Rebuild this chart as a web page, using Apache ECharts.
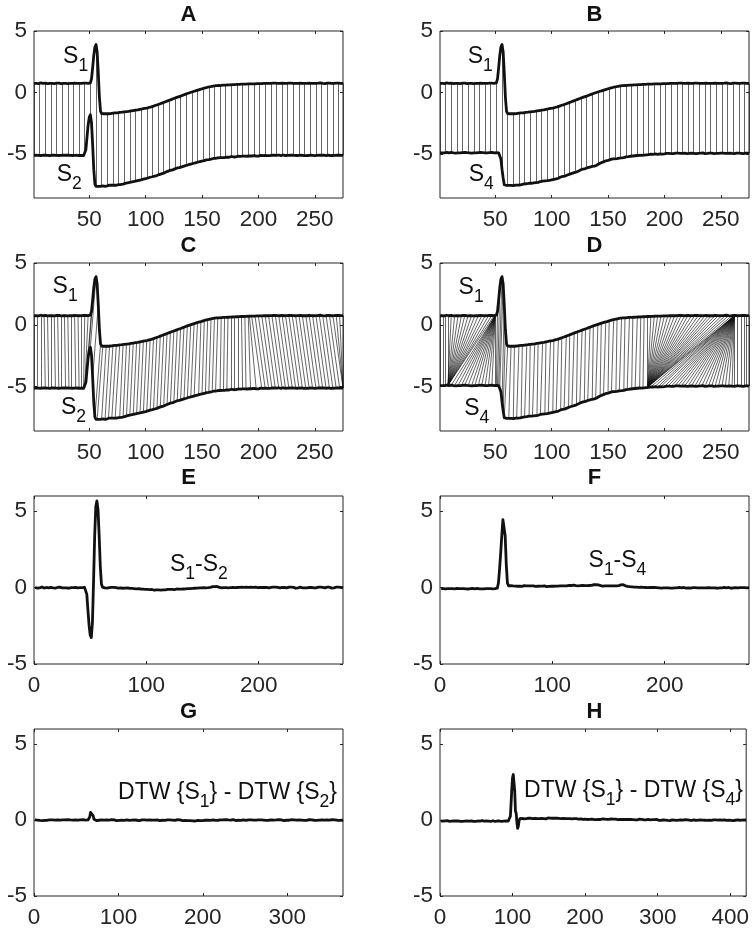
<!DOCTYPE html>
<html><head><meta charset="utf-8">
<script src="https://cdn.jsdelivr.net/npm/echarts@6/dist/echarts.min.js"></script>
<style>html,body{margin:0;padding:0;background:#fff}#c{width:752px;height:931px}</style>
</head><body><div id="c"></div>
<script>
// ---------------- DATA ----------------
// S1, S2, S4: signals (sample index 1..275), S2/S4 drawn shifted down in panels A-D
const S1 = [
.74,.76,.73,.75,.72,.74,.77,.75,.73,.74,
.76,.74,.72,.75,.73,.76,.74,.75,.72,.74,
.75,.73,.76,.74,.72,.75,.74,.77,.73,.74,
.72,.75,.74,.76,.73,.74,.75,.72,.74,.76,
.73,.75,.74,.72,.75,.74,.76,.73,.74,.75,
.78,1.1,2.0,3.0,3.7,3.9,3.3,1.6,-.4,-1.55,
-1.72,-1.75,-1.74,-1.76,-1.74,-1.73,-1.74,-1.71,-1.72,-1.70,
-1.69,-1.70,-1.67,-1.66,-1.67,-1.64,-1.63,-1.62,-1.61,-1.60,
-1.58,-1.59,-1.56,-1.55,-1.54,-1.52,-1.51,-1.49,-1.48,-1.46,
-1.45,-1.43,-1.42,-1.40,-1.38,-1.37,-1.35,-1.33,-1.31,-1.30,
-1.28,-1.25,-1.23,-1.20,-1.18,-1.14,-1.12,-1.08,-1.05,-1.02,
-.99,-.95,-.92,-.88,-.85,-.82,-.78,-.75,-.71,-.68,
-.64,-.61,-.57,-.54,-.50,-.47,-.43,-.40,-.36,-.33,
-.30,-.26,-.23,-.19,-.16,-.13,-.09,-.06,-.03,0,
.03,.06,.09,.12,.15,.18,.21,.24,.26,.29,
.32,.34,.37,.40,.42,.44,.46,.48,.50,.52,
.53,.54,.55,.56,.56,.57,.58,.58,.59,.59,
.60,.61,.61,.62,.62,.63,.63,.64,.64,.64,
.65,.65,.66,.66,.67,.67,.67,.68,.68,.68,
.69,.69,.70,.70,.70,.71,.70,.71,.72,.71,
.72,.73,.72,.73,.74,.72,.73,.74,.73,.75,
.74,.73,.75,.74,.76,.73,.74,.75,.73,.74,
.76,.74,.73,.75,.74,.72,.75,.74,.76,.73,
.74,.75,.73,.76,.74,.72,.75,.74,.73,.75,
.74,.76,.73,.74,.75,.72,.74,.76,.73,.75,
.74,.73,.75,.74,.77,.73,.74,.75,.72,.74,
.75,.73,.76,.74,.73,.75,.74,.72,.75,.74,
.76,.73,.74,.75,.74
];
const S2 = [
.73,.75,.76,.72,.74,.77,.73,.74,.76,.72,
.75,.73,.74,.77,.72,.74,.76,.73,.75,.72,
.74,.76,.73,.75,.74,.71,.76,.73,.75,.74,
.76,.72,.74,.75,.73,.77,.74,.72,.75,.74,
.73,.76,.74,.75,.73,
.78,1.2,2.2,3.2,3.85,4.05,3.4,1.6,-.4,-1.6,-1.78,-1.8,-1.79,-1.8,-1.79,
-1.75,-1.75,-1.72,-1.78,-1.71,-1.74,-1.74,-1.68,-1.74,-1.69,
-1.71,-1.68,-1.67,-1.69,-1.64,-1.64,-1.61,-1.63,-1.57,-1.60,
-1.55,-1.54,-1.54,-1.49,-1.50,-1.45,-1.46,-1.41,-1.42,-1.37,
-1.37,-1.33,-1.35,-1.29,-1.29,-1.25,-1.25,-1.20,-1.20,-1.16,
-1.16,-1.10,-1.10,-1.04,-1.06,-1.00,-.95,-.95,-.90,-.90,
-.84,-.82,-.76,-.76,-.71,-.71,-.63,-.62,-.59,-.54,
-.53,-.47,-.45,-.44,-.37,-.36,-.34,-.28,-.26,-.25,
-.20,-.19,-.14,-.13,-.08,-.08,-.02,-.02,.03,.03,
.08,.08,.13,.13,.18,.18,.23,.23,.27,.27,
.32,.31,.38,.38,.42,.40,.44,.43,.44,.49,
.46,.50,.47,.53,.55,.55,.59,.56,.59,.56,
.60,.59,.62,.59,.62,.65,.62,.61,.64,.62,
.64,.67,.64,.66,.64,.68,.65,.68,.65,.67,
.67,.69,.67,.69,.68,.72,.67,.69,.72,.68,
.71,.74,.70,.72,.73,.74,.71,.72,.75,.72,
.73,.75,.72,.76,.73,.74,.72,.77,.74,.72,
.74,.77,.72,.73,.76,.74,.72,.75,.73,.76,
.72,.74,.77,.73,.75,.74,.72,.76,.74,.73,
.76,.72,.75,.73,.74,.76,.72,.74,.75,.72,
.75,.74,.72,.76,.73,.75,.72,.76,.74,.73,
.72,.76,.73,.72,.76,.73,.75,.74,.72,.76,
.73,.75,.72,.74,.76
];
const S4 = [
.80,.83,.79,.82,.80,.78,.84,.81,.79,.82,
.83,.79,.80,.82,.78,.84,.80,.83,.79,.81,
.82,.80,.84,.79,.81,.83,.80,.82,.78,.83,
.80,.82,.79,.83,.81,.80,.83,.79,.82,.81,
.79,.83,.80,.78,.82,.81,.84,.79,.80,.82,
.81,.80,.80,.75,.30,-.55,-1.25,-1.80,-1.90,-1.86,
-1.84,-1.85,-1.87,-1.85,-1.85,-1.87,-1.84,-1.83,-1.81,-1.83,
-1.79,-1.82,-1.75,-1.77,-1.80,-1.73,-1.75,-1.72,-1.72,-1.68,
-1.69,-1.68,-1.68,-1.65,-1.62,-1.63,-1.60,-1.61,-1.58,-1.54,
-1.55,-1.51,-1.53,-1.49,-1.45,-1.47,-1.43,-1.44,-1.40,-1.40,
-1.37,-1.36,-1.33,-1.32,-1.28,-1.27,-1.23,-1.17,-1.17,-1.12,
-1.11,-1.09,-1.03,-1.01,-1.00,-.94,-.92,-.88,-.87,-.82,
-.77,-.76,-.69,-.68,-.63,-.58,-.57,-.52,-.49,-.48,
-.43,-.41,-.37,-.36,-.31,-.31,-.29,-.28,-.22,-.21,
-.15,-.09,-.04,0,.05,.06,.10,.15,.14,.19,
.21,.25,.25,.30,.31,.31,.34,.33,.37,.36,
.35,.38,.36,.41,.44,.47,.50,.49,.53,.52,
.55,.54,.57,.56,.59,.58,.61,.60,.61,.59,
.63,.61,.65,.63,.67,.65,.66,.69,.66,.68,
.68,.71,.70,.68,.71,.71,.73,.70,.74,.71,
.74,.76,.73,.75,.77,.74,.76,.73,.75,.77,
.75,.77,.74,.76,.78,.75,.73,.77,.76,.74,
.77,.75,.76,.78,.74,.76,.75,.73,.78,.76,
.75,.77,.74,.79,.76,.74,.77,.75,.73,.77,
.76,.78,.75,.74,.77,.75,.78,.76,.74,.77,
.75,.77,.74,.76,.78,.75,.73,.77,.76,.75,
.77,.74,.76,.78,.75,.77,.74,.76,.75,.73,
.76,.78,.75,.77,.74
];
// DTW{S1} - DTW{S2} (path steps 1..366)
const G_DIFF = [
.01,-.02,.02,0,-.01,.03,-.02,.01,0,-.03,
.02,.01,-.02,0,.03,-.01,.01,-.03,.02,0,
-.02,.01,.03,-.01,0,.02,-.02,.01,-.01,.03,
0,-.02,.02,.01,-.03,0,.02,-.01,.01,.03,
-.02,0,.01,-.01,.02,0,-.03,.02,.01,-.01,
.03,0,-.02,.01,.02,-.01,0,.03,-.02,.01,
0,-.01,.02,.01,.04,.2,.5,.62,.58,.3,
.06,-.02,.01,-.03,.02,0,-.01,.03,-.02,.01,
.02,-.01,0,.03,-.02,.01,-.03,.02,0,-.01,
.01,.03,-.02,0,.02,-.01,.01,-.03,.02,0,
-.02,.02,.01,-.01,.03,0,-.02,.01,-.03,.02,
0,.01,-.02,.03,-.01,0,.02,-.02,.01,-.01,
.03,-.01,0,.02,-.03,.01,-.01,.02,0,-.02,
.01,.03,-.01,0,-.02,.02,.01,-.03,.01,0,
-.01,.02,0,-.02,.03,.01,-.01,.02,-.03,0,
.02,-.01,.01,0,-.02,.03,-.01,.01,-.02,0,
.01,-.03,.02,0,-.01,.02,-.02,.01,0,.03,
-.02,0,.01,-.01,.02,-.03,0,.01,-.02,.02,
-.01,-.03,0,-.02,-.04,-.01,-.03,-.05,-.02,-.04,
-.06,-.03,-.05,-.02,-.06,-.04,-.03,-.05,-.02,-.03,
-.01,-.03,0,-.02,.01,-.01,.02,0,-.02,.01,
0,.02,-.01,.01,-.02,.03,0,-.01,.02,-.02,
.01,0,-.03,.02,.01,-.01,.03,-.02,0,.01,
-.01,.02,0,-.02,.01,.03,-.01,0,-.03,.02,
.01,-.01,.02,0,-.02,.01,-.03,.02,.01,0,
-.02,.03,-.01,.01,0,-.02,.02,-.01,.03,0,
.01,-.02,0,.02,-.01,.01,-.03,0,.02,-.01,
.02,0,-.01,.03,-.02,.01,0,-.01,.02,-.02,
.01,.03,-.01,0,.02,-.02,.01,-.01,0,.03,
-.02,.01,.02,-.01,0,-.03,.02,.01,-.01,0,
.02,-.01,.01,-.02,.03,0,-.01,.02,-.02,.01,
0,.02,-.01,.01,-.03,.02,0,-.01,.03,-.02,
.01,0,-.02,.02,-.01,.03,0,-.02,.01,-.01,
.02,-.01,0,.03,-.02,.01,-.01,0,.02,-.03,
.01,.02,-.01,0,.03,-.02,.01,-.01,.02,0,
-.02,.01,.03,-.01,0,.02,.04,.01,-.01,.02,
0,-.02,.01,.03,-.01,.01
];
// DTW{S1} - DTW{S4} (path steps 1..422)
const H_DIFF = [
-.05,-.08,-.04,-.07,-.06,-.09,-.05,-.06,-.08,-.04,
-.07,-.05,-.08,-.06,-.03,-.07,-.09,-.05,-.06,-.08,
-.04,-.06,-.07,-.09,-.05,-.06,-.04,-.08,-.07,-.05,
-.08,-.06,-.04,-.07,-.09,-.05,-.06,-.08,-.03,-.07,
-.06,-.09,-.05,-.07,-.04,-.08,-.06,-.05,-.09,-.07,
-.04,-.06,-.08,-.05,-.07,-.09,-.06,-.04,-.08,-.06,
-.07,-.05,-.09,-.06,-.04,-.08,-.07,-.05,-.06,-.09,
-.05,-.07,-.04,-.08,-.06,-.09,-.05,-.07,-.06,-.04,
-.08,-.06,-.07,-.05,-.09,-.06,-.04,-.07,-.08,-.05,
-.06,-.09,-.05,-.07,-.04,-.06,
.25,1.1,2.1,2.8,3.0,2.9,1.9,.6,.45,-.15,-.55,-.4,-.05,.1,
.12,.09,.11,.14,.10,.08,.12,.13,.09,.11,
.10,.13,.08,.11,.12,.09,.14,.10,.11,.08,
.12,.10,.13,.09,.11,.14,.10,.12,.08,.11,
.09,.12,.10,.13,.11,.08,.12,.10,.14,.09,
.11,.13,.09,.10,.12,.08,.11,.13,.10,.09,
.12,.10,.08,.11,.13,.09,.10,.12,.08,.11,
.09,.11,.10,.07,.12,.09,.08,.11,.10,.07,
.10,.08,.11,.07,.09,.10,.06,.09,.08,.10,
.07,.09,.06,.08,.10,.07,.05,.08,.09,.06,
.05,.07,.04,.06,.08,.05,.03,.06,.07,.04,
.06,.04,.07,.05,.03,.06,.08,.04,.05,.07,
.04,.06,.05,.08,.03,.05,.07,.04,.06,.05,
.07,.03,.05,.06,.04,.08,.05,.03,.06,.04,
.05,.07,.04,.06,.03,.05,.07,.04,.02,.05,
.04,.06,.03,.05,.07,.02,.04,.06,.03,.05,
.03,.05,.04,.02,.06,.03,.04,.05,.02,.04,
.05,.02,.04,.03,.06,.02,.03,.05,.01,.04,
.02,.04,.03,.01,.05,.02,.04,.01,.03,.02,
.04,.01,.03,.02,0,.03,.01,.02,.04,0,
.01,-.02,.02,0,-.01,.03,-.02,.01,-.03,.02,
0,-.01,.02,-.02,.01,0,-.03,.02,-.01,.01,
-.02,.02,0,-.01,.03,-.02,.01,-.01,0,.02,
-.03,.01,.02,-.01,0,-.02,.01,.03,-.01,0,
.02,-.02,.01,-.01,.03,0,-.02,.01,-.03,.02,
0,.01,-.02,.02,-.01,0,.03,-.02,.01,-.01,
.02,0,-.03,.01,-.01,.02,0,-.02,.01,.03,
-.01,0,.02,-.02,.01,-.03,.02,0,-.01,.01,
.02,-.01,0,.03,-.02,.01,-.01,.02,0,-.03,
.01,.02,-.01,0,-.02,.03,.01,-.01,.02,0,
-.02,.01,.02,-.03,0,.01,-.01,.02,-.02,.01,
0,.03,-.01,.01,-.02,0,.02,-.01,.01,-.03,
.01,0
];
// Alignment links: index pairs [S1 index, other-signal index]
const AB_LINK_IDX = [1,6,11,16,21,26,31,36,41,46,51,56,61,66,71,76,81,86,91,96,101,106,111,116,121,126,131,136,141,146,151,156,161,166,171,176,181,186,191,196,201,206,211,216,221,226,231,236,241,246,251,256,261,266,271,275];
const C_LINKS = [
[1,1],[4,4],[7,7],[10,11],[13,14],[16,16],[19,20],[22,23],[25,25],[28,29],[31,32],[34,34],[37,38],[40,41],[43,43],[46,45],[49,46],[52,47],[54,49],[56,51],[58,53],[60,55],[62,57],
[65,61],[68,64],[71,67],[74,70],[77,73],[80,77],[83,80],[86,83],[89,86],[92,89],[95,92],[98,95],[101,98],[104,101],[107,104],[110,107],[113,110],[116,113],[119,116],[122,119],[125,122],[128,125],[131,128],[134,131],[137,134],[140,137],[143,140],[146,143],[149,147],[152,150],[155,153],[158,156],[161,159],[164,162],[167,166],[170,169],[173,172],[176,176],[179,179],[182,182],[185,186],[188,189],[191,193],[192,198],
[194,203],[197,206],[200,209],[203,212],[206,215],[209,218],[212,221],[215,224],[218,227],[221,230],[224,233],[227,236],[230,239],[233,242],[236,245],[239,248],[242,251],[245,254],[248,257],[251,260],[254,263],[257,266],[260,269],[263,272],[266,275],[269,275],[272,275],[275,275]
];
const D_LINKS = [
[1,1],[4,4],[6,6],[8,8],[11,8],[14,8],[17,8],[20,8],[23,8],[26,8],[29,8],[32,8],[35,8],[38,8],[41,8],[44,8],[47,8],[49,8],
[50,11],[50,14],[50,17],[50,20],[50,23],[50,26],[50,29],[50,32],[50,35],[50,38],[50,41],[50,44],[50,47],[50,50],
[52,51],[54,52],[56,53],[57,54],[58,56],[59,57],[61,58],
[64,62],[67,66],[71,69],[74,73],[78,76],[81,80],[85,83],[88,87],[92,90],[95,94],[99,97],[102,101],[106,104],[109,108],[113,111],[116,115],[120,118],[123,122],[127,125],[130,129],[134,132],[137,136],[141,139],[144,143],[148,146],[151,150],[155,153],[158,157],[162,160],[165,164],[169,167],[172,171],[176,174],[179,178],[182,181],
[185,185],[188,185],[191,185],[194,185],[197,185],[200,185],[203,185],[206,185],[209,185],[212,185],[215,185],[218,185],[221,185],[224,185],[227,185],[230,185],[233,185],[236,185],[239,185],[242,185],[245,185],[248,185],[251,185],[254,185],[257,185],[260,185],[262,185],
[262,188],[262,191],[262,194],[262,197],[262,200],[262,203],[262,206],[262,209],[262,212],[262,215],[262,218],[262,221],[262,224],[262,227],[262,230],[262,233],[262,236],[262,239],[262,242],[262,245],[262,248],[262,251],[262,254],[262,257],[262,260],[262,262],
[265,265],[268,268],[271,271],[273,273],[275,275]
];
// Tick values
const X_TICKS_AD = [50,100,150,200,250];
const X_TICKS_EF = [0,100,200];
const X_TICKS_G = [0,100,200,300];
const X_TICKS_H = [0,100,200,300,400];
const Y_TICKS = [-5,0,5];
// display shift of the second signal in panels A-D
const OFF_S2 = -5.87, OFF_S4 = -5.72;

// ---------------- LAYOUT ----------------
const FONT = '"Liberation Sans", Arial, Helvetica, sans-serif';
const COL_LEFT = [34, 440], COL_W = [309, 309];
const ROW_TOP = [31, 263, 496, 729], ROW_H = [167, 168, 168, 167];
const TITLE_Y = [15, 246, 478, 712];
const TICK_FS = 22.5, MAIN_FS = 23, SUB_FS = 17.5, SUB_DY = 9.5, TITLE_FS = 22;
const INK = '#262626';

const PANELS = [
  {t:'A', col:0, row:0, x:[1,275], y:[-8.6,5], xt:X_TICKS_AD},
  {t:'B', col:1, row:0, x:[1,275], y:[-8.6,5], xt:X_TICKS_AD},
  {t:'C', col:0, row:1, x:[1,275], y:[-8.6,5], xt:X_TICKS_AD},
  {t:'D', col:1, row:1, x:[1,275], y:[-8.6,5], xt:X_TICKS_AD},
  {t:'E', col:0, row:2, x:[0,275], y:[-5,6], xt:X_TICKS_EF},
  {t:'F', col:1, row:2, x:[0,275], y:[-5,6], xt:X_TICKS_EF},
  {t:'G', col:0, row:3, x:[0,366], y:[-5,6], xt:X_TICKS_G},
  {t:'H', col:1, row:3, x:[0,422], y:[-5,6], xt:X_TICKS_H}
];
const LABELS = [
  {p:0, x:26.8, y:2.9,  parts:[['S',0],['1',1]]},
  {p:0, x:21.1, y:-6.66, parts:[['S',0],['2',1]]},
  {p:1, x:25.5, y:2.9,  parts:[['S',0],['1',1]]},
  {p:1, x:26.4, y:-6.66, parts:[['S',0],['4',1]]},
  {p:2, x:17.5, y:3.1,  parts:[['S',0],['1',1]]},
  {p:2, x:24.9, y:-6.69, parts:[['S',0],['2',1]]},
  {p:3, x:17.5, y:3.0,  parts:[['S',0],['1',1]]},
  {p:3, x:22.5, y:-6.77, parts:[['S',0],['4',1]]},
  {p:4, x:121, y:1.48, parts:[['S',0],['1',1],['-S',0],['2',1]]},
  {p:5, x:132.2, y:1.75, parts:[['S',0],['1',1],['-S',0],['4',1]]},
  {p:6, x:99.6, y:1.82, parts:[['DTW {S',0],['1',1],['} - DTW {S',0],['2',1],['}',0]]},
  {p:7, x:115.9, y:1.93, parts:[['DTW {S',0],['1',1],['} - DTW {S',0],['4',1],['}',0]]}
];

// ---------------- BUILD ----------------
const chart = echarts.init(document.getElementById('c'), null, {renderer:'canvas', width:752, height:931});
const idx = a => a.map((v,k)=>[k+1, v]);
const s1 = idx(S1);
const s2d = S2.map((v,k)=>[k+1, v + OFF_S2]);
const s4d = S4.map((v,k)=>[k+1, v + OFF_S4]);
const linkAB = (other, off) => AB_LINK_IDX.map(i => ({coords:[[i, S1[i-1]], [i, other[i-1] + off]]}));
const linkPairs = (pairs, other, off) => pairs.map(([i,j]) => ({coords:[[i, S1[i-1]], [j, other[j-1] + off]]}));

const panelSeries = [
  {links: linkAB(S2, OFF_S2), lines:[s1, s2d]},
  {links: linkAB(S4, OFF_S4), lines:[s1, s4d]},
  {links: linkPairs(C_LINKS, S2, OFF_S2), lines:[s1, s2d]},
  {links: linkPairs(D_LINKS, S4, OFF_S4), lines:[s1, s4d]},
  {lines:[S1.map((v,k)=>[k+1, v - S2[k]])]},
  {lines:[S1.map((v,k)=>[k+1, v - S4[k]])]},
  {lines:[idx(G_DIFF)]},
  {lines:[idx(H_DIFF)]}
];

const grid = [], xAxis = [], yAxis = [], series = [];
PANELS.forEach((p, g) => {
  grid.push({left:COL_LEFT[p.col], top:ROW_TOP[p.row], width:COL_W[p.col], height:ROW_H[p.row],
    show:true, borderColor:INK, borderWidth:1, backgroundColor:'#fff'});
  const tick = vals => ({show:true, inside:true, length:3, customValues:vals, lineStyle:{color:INK, width:1}});
  const lab = (vals, m) => ({show:true, customValues:vals, fontSize:TICK_FS, fontFamily:FONT, color:INK, margin:m});
  const line = {show:false, onZero:false};
  xAxis.push({type:'value', gridIndex:g, min:p.x[0], max:p.x[1], position:'bottom',
    axisLine:line, splitLine:{show:false}, axisTick:tick(p.xt), axisLabel:lab(p.xt, 10)});
  xAxis.push({type:'value', gridIndex:g, min:p.x[0], max:p.x[1], position:'top',
    axisLine:line, splitLine:{show:false}, axisTick:tick(p.xt), axisLabel:{show:false}});
  yAxis.push({type:'value', gridIndex:g, min:p.y[0], max:p.y[1], position:'left',
    axisLine:line, splitLine:{show:false}, axisTick:tick(Y_TICKS), axisLabel:lab(Y_TICKS, 7)});
  yAxis.push({type:'value', gridIndex:g, min:p.y[0], max:p.y[1], position:'right',
    axisLine:line, splitLine:{show:false}, axisTick:tick(Y_TICKS), axisLabel:{show:false}});
  const ps = panelSeries[g];
  if (ps.links) {
    series.push({type:'lines', coordinateSystem:'cartesian2d', xAxisIndex:2*g, yAxisIndex:2*g,
      data:ps.links, polyline:false, silent:true, z:2,
      lineStyle:{color:'#111', width:0.65, opacity:1}});
  }
  ps.lines.forEach(d => series.push({type:'line', xAxisIndex:2*g, yAxisIndex:2*g, data:d,
    symbol:'none', showSymbol:false, silent:true, z:3, clip:true,
    lineStyle:{color:'#111', width:2.8, join:'round'}}));
});

chart.setOption({animation:false, backgroundColor:'#fff', grid, xAxis, yAxis, series});

// ---------------- TEXT ----------------
const mctx = document.createElement('canvas').getContext('2d');
function textW(t, size, weight) { mctx.font = (weight||'normal') + ' ' + size + 'px ' + FONT; return mctx.measureText(t).width; }
const graphic = [];
PANELS.forEach(p => {
  graphic.push({type:'text', x: COL_LEFT[p.col] + COL_W[p.col]/2, y: TITLE_Y[p.row], silent:true,
    style:{text:p.t, fontSize:TITLE_FS, fontWeight:'bold', fontFamily:FONT, fill:'#111', align:'center', verticalAlign:'middle'}});
});
LABELS.forEach(l => {
  const pt = chart.convertToPixel({xAxisIndex:2*l.p, yAxisIndex:2*l.p}, [l.x, l.y]);
  let x = pt[0];
  l.parts.forEach(([t, sub]) => {
    const fs = sub ? SUB_FS : MAIN_FS;
    graphic.push({type:'text', x: x, y: pt[1] + (sub ? SUB_DY : 0), silent:true,
      style:{text:t, fontSize:fs, fontFamily:FONT, fill:'#111', align:'left', verticalAlign:'middle'}});
    x += textW(t, fs);
  });
});
chart.setOption({graphic});
</script>
</body></html>
